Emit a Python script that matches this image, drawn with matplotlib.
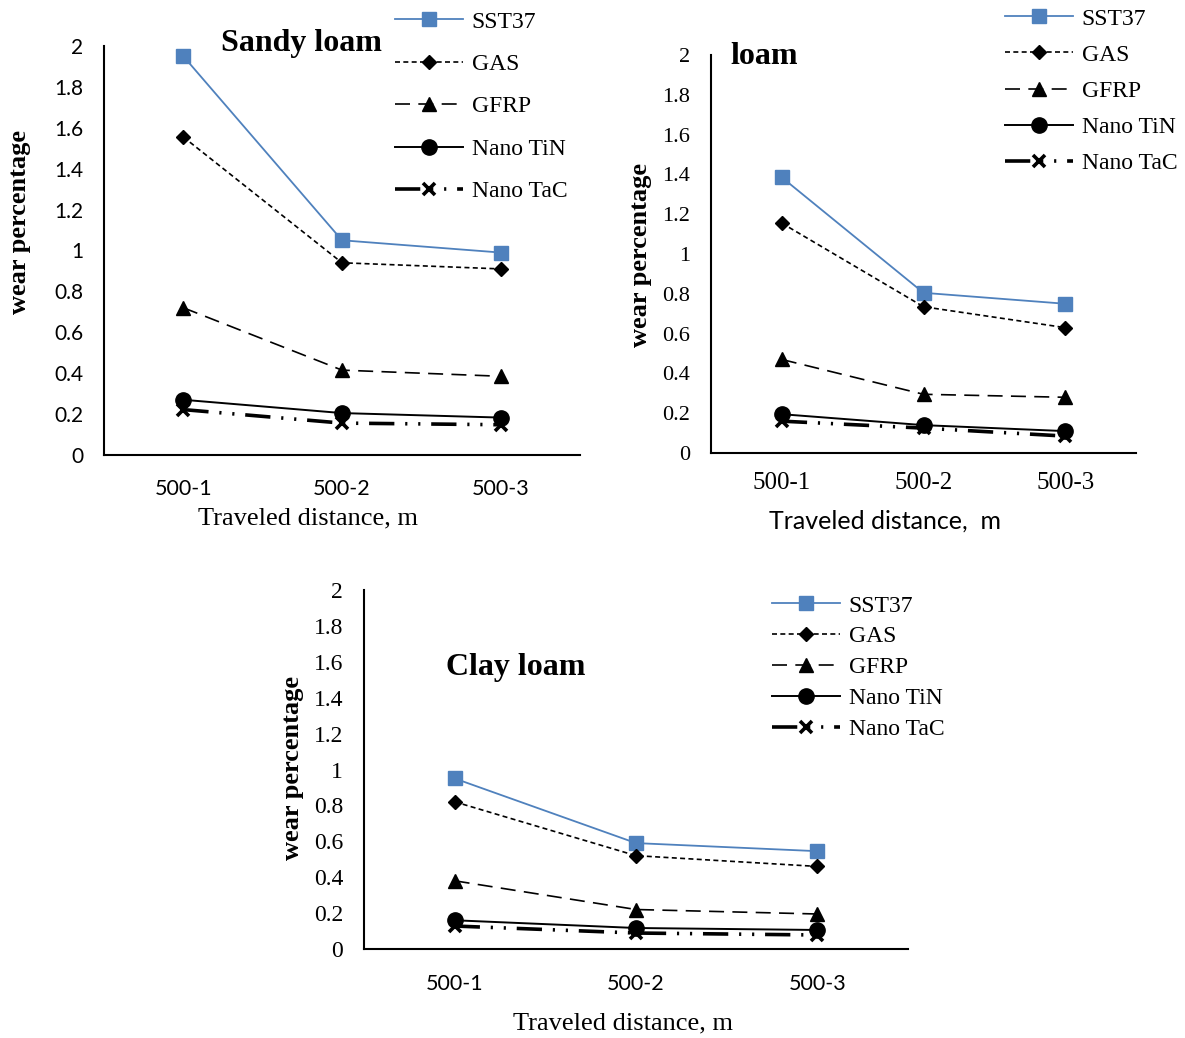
import numpy as np
import matplotlib
matplotlib.use("Agg")
import matplotlib.pyplot as plt

W, H = 1185, 1038

categories = ["500-1", "500-2", "500-3"]
series_names = ["SST37", "GAS", "GFRP", "Nano TiN", "Nano TaC"]

# wear percentage
sandy_sst37 = [1.95, 1.05, 0.99]
sandy_gas = [1.555, 0.94, 0.91]
sandy_gfrp = [0.72, 0.415, 0.385]
sandy_tin = [0.27, 0.205, 0.183]
sandy_tac = [0.222, 0.156, 0.148]

loam_sst37 = [1.385, 0.805, 0.75]
loam_gas = [1.155, 0.735, 0.63]
loam_gfrp = [0.47, 0.295, 0.28]
loam_tin = [0.195, 0.14, 0.11]
loam_tac = [0.16, 0.125, 0.085]

clay_sst37 = [0.95, 0.59, 0.545]
clay_gas = [0.82, 0.52, 0.46]
clay_gfrp = [0.38, 0.22, 0.195]
clay_tin = [0.16, 0.117, 0.106]
clay_tac = [0.128, 0.089, 0.078]

y_ticks = [0, 0.2, 0.4, 0.6, 0.8, 1, 1.2, 1.4, 1.6, 1.8, 2]
y_tick_labels = ["0", "0.2", "0.4", "0.6", "0.8", "1", "1.2", "1.4", "1.6", "1.8", "2"]

SERIF = "Liberation Serif"
SANS = "Lato"

styles = [
    dict(color="#4F81BD", lw=1.3, marker="s", ms=10, ls="-"),
    dict(color="black", lw=1.2, marker="D", ms=7, ls=(0, (3, 2))),
    dict(color="black", lw=1.2, marker="^", ms=9.5, ls=(0, (9, 5))),
    dict(color="black", lw=1.4, marker="o", ms=11, ls="-"),
    dict(color="black", lw=2.6, marker="x", ms=9, mew=2.6, ls=(0, (7, 3, 0.6, 3, 0.6, 3))),
]


def frac_rect(x0, y0, x1, y1):
    return [x0 / W, 1 - y1 / H, (x1 - x0) / W, (y1 - y0) / H]


def fx(x):
    return x / W


def fy(y):
    return 1 - y / H


fig = plt.figure(figsize=(W / 100, H / 100), dpi=100)


def panel(rect, data, ytick_font, ytick_size, xtick_font, xtick_size, xpad, ypad):
    ax = fig.add_axes(frac_rect(*rect))
    x = np.arange(len(categories))
    handles = []
    for name, vals, st in zip(series_names, data, styles):
        h, = ax.plot(x, vals, color=st["color"], lw=st["lw"], ls=st["ls"],
                     marker=st["marker"], ms=st["ms"], mew=st.get("mew", 1),
                     mfc=st["color"], mec=st["color"], label=name)
        handles.append(h)
    ax.set_xlim(-0.5, 2.5)
    ax.set_ylim(0, 2)
    ax.set_xticks(x)
    ax.set_xticklabels(categories, fontfamily=xtick_font, fontsize=xtick_size)
    ax.set_yticks(y_ticks)
    ax.set_yticklabels(y_tick_labels, fontfamily=ytick_font, fontsize=ytick_size)
    ax.tick_params(axis="x", length=0, pad=xpad)
    ax.tick_params(axis="y", length=0, pad=ypad)
    for s in ["top", "right"]:
        ax.spines[s].set_visible(False)
    for s in ["left", "bottom"]:
        ax.spines[s].set_linewidth(1.5)
        ax.spines[s].set_color("black")
    ax.set_facecolor("none")
    return ax, handles


def legend(handles, x, y, spacing):
    fig.legend(handles=handles, loc="upper left", bbox_to_anchor=(fx(x), fy(y)),
               frameon=False, prop={"family": SERIF, "size": 17},
               handlelength=2.9, handletextpad=0.35, labelspacing=spacing,
               borderpad=0, borderaxespad=0)


# Sandy loam
ax1, h1 = panel((104, 46, 580, 455),
                [sandy_sst37, sandy_gas, sandy_gfrp, sandy_tin, sandy_tac],
                SANS, 15, SANS, 15.5, 17, 15)
fig.text(fx(301), fy(44), "Sandy loam", fontfamily=SERIF, fontweight="bold",
         fontsize=23, ha="center", va="center")
fig.text(fx(20), fy(222), "wear percentage", fontfamily=SERIF, fontweight="bold",
         fontsize=19, rotation=90, ha="center", va="center")
fig.text(fx(308), fy(518), "Traveled distance, m", fontfamily=SERIF,
         fontsize=19, ha="center", va="center")
legend(h1, 395, 11, 0.885)

# loam
ax2, h2 = panel((711, 55, 1136, 453),
                [loam_sst37, loam_gas, loam_gfrp, loam_tin, loam_tac],
                SERIF, 16, SERIF, 18, 14, 15)
fig.text(fx(730), fy(57), "loam", fontfamily=SERIF, fontweight="bold",
         fontsize=23, ha="left", va="center")
fig.text(fx(641), fy(255), "wear percentage", fontfamily=SERIF, fontweight="bold",
         fontsize=19, rotation=90, ha="center", va="center")
fig.text(fx(885), fy(521), "Traveled distance,  m", fontfamily=SANS,
         fontsize=18, ha="center", va="center")
legend(h2, 1005, 8, 0.62)

# Clay loam
ax3, h3 = panel((364, 590, 908, 949),
                [clay_sst37, clay_gas, clay_gfrp, clay_tin, clay_tac],
                SERIF, 17, SANS, 15.5, 18, 15)
fig.text(fx(516), fy(668), "Clay loam", fontfamily=SERIF, fontweight="bold",
         fontsize=23, ha="center", va="center")
fig.text(fx(292), fy(768), "wear percentage", fontfamily=SERIF, fontweight="bold",
         fontsize=19, rotation=90, ha="center", va="center")
fig.text(fx(623), fy(1023), "Traveled distance, m", fontfamily=SERIF,
         fontsize=19, ha="center", va="center")
legend(h3, 772, 595, 0.4)

fig.savefig("out.png", dpi=100)
